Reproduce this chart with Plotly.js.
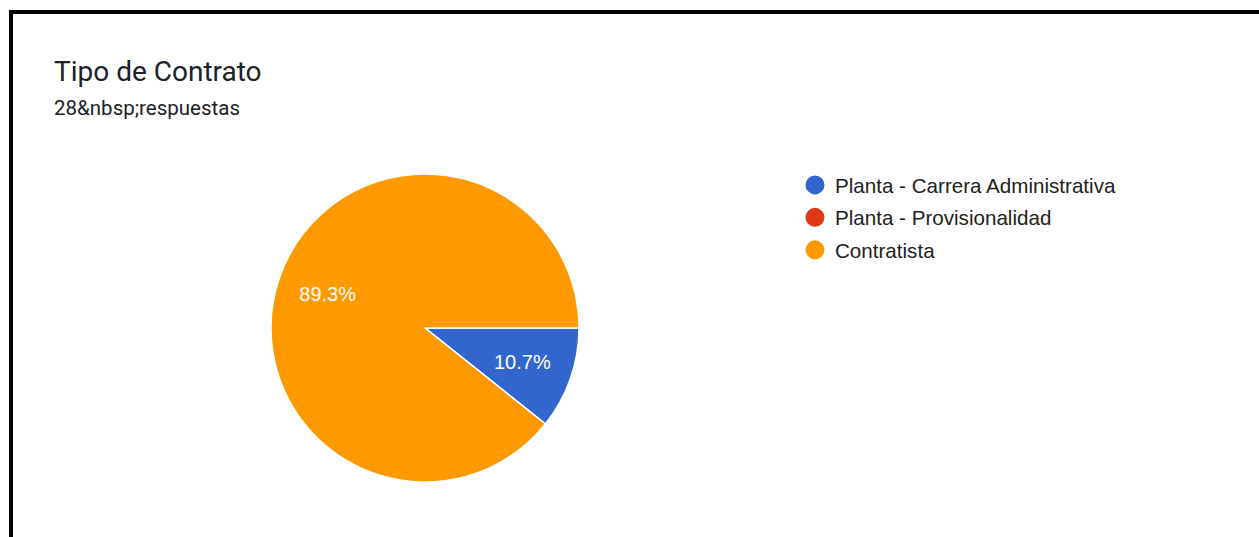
<!DOCTYPE html>
<html>
<head>
<meta charset="utf-8">
<script src="https://cdn.plot.ly/plotly-3.0.1.min.js"></script>
<style>
  html, body { margin: 0; padding: 0; background: #fff; }
  #chart { position: absolute; left: 0; top: 0; width: 1259px; height: 537px; }
  #frame { position: absolute; left: 9px; top: 10px; width: 1400px; height: 700px;
           border-left: 4px solid #000; border-top: 4px solid #000; pointer-events: none; }
</style>
</head>
<body>
<div id="chart"></div>
<div id="frame"></div>
<script>
const categories = ["Planta - Carrera Administrativa", "Planta - Provisionalidad", "Contratista"];
const counts = [3, 0, 25];
const colors = ["#3366cc", "#dc3912", "#ff9900"];
const chartTitle = "Tipo de Contrato";
const subtitle = "28&amp;nbsp;respuestas";

const W = 1259, H = 537;
const cx = 425, cy = 328, R = 154;
function dom(r) {
  return { x: [(cx - r) / W, (cx + r) / W], y: [1 - (cy + r) / H, 1 - (cy - r) / H] };
}
const labelFont = { family: "Liberation Sans, Arial, sans-serif", size: 20, color: "#ffffff" };

const pie = {
  type: "pie", labels: categories, values: counts, sort: false,
  direction: "clockwise", rotation: 90,
  marker: { colors: colors, line: { color: "#ffffff", width: 1.5 } },
  textinfo: "none", hoverinfo: "label+percent", showlegend: false,
  domain: dom(R)
};

// transparent overlay pies that carry the percentage labels (positions from the same values)
function labelPie(r, show) {
  return {
    type: "pie", labels: categories, values: counts, sort: false,
    direction: "clockwise", rotation: 90,
    marker: { colors: categories.map(() => "rgba(0,0,0,0)"), line: { width: 0 } },
    texttemplate: categories.map((c, i) => show[i] ? "%{percent:.1%}" : ""),
    textposition: "inside", insidetextorientation: "horizontal",
    textfont: labelFont, hoverinfo: "skip", showlegend: false,
    domain: dom(r)
  };
}
const bigLabels = labelPie(206, [false, false, true]);
const smallLabels = labelPie(137.3, [true, false, false]);

const legendTraces = categories.map((c, i) => ({
  type: "scatter", mode: "markers", x: [null], y: [null], name: c,
  legendgroup: "g" + i,
  marker: { color: colors[i], size: 16, symbol: "circle", line: { color: colors[i], width: 3 } },
  showlegend: true, hoverinfo: "skip"
}));

const layout = {
  width: W, height: H,
  margin: { l: 0, r: 0, t: 0, b: 0 },
  paper_bgcolor: "#ffffff", plot_bgcolor: "rgba(0,0,0,0)",
  xaxis: { visible: false }, yaxis: { visible: false },
  showlegend: true,
  legend: {
    x: 795 / W, y: 1 - 165 / H, xanchor: "left", yanchor: "top",
    font: { family: "Liberation Sans, Arial, sans-serif", size: 20.6, color: "#222222" },
    itemwidth: 30, tracegroupgap: 2.7, bgcolor: "rgba(0,0,0,0)", traceorder: "grouped"
  },
  annotations: [
    { text: chartTitle, xref: "paper", yref: "paper", x: 52 / W, y: 1 - 72 / H,
      xanchor: "left", yanchor: "middle", showarrow: false,
      font: { family: "Roboto, sans-serif", size: 28, color: "#202124" } },
    { text: subtitle, xref: "paper", yref: "paper", x: 52 / W, y: 1 - 108 / H,
      xanchor: "left", yanchor: "middle", showarrow: false,
      font: { family: "Roboto, sans-serif", size: 20.5, color: "#202124" } }
  ]
};

Plotly.newPlot("chart", [pie, bigLabels, smallLabels, ...legendTraces], layout,
  { displayModeBar: false, staticPlot: true });
</script>
</body>
</html>
